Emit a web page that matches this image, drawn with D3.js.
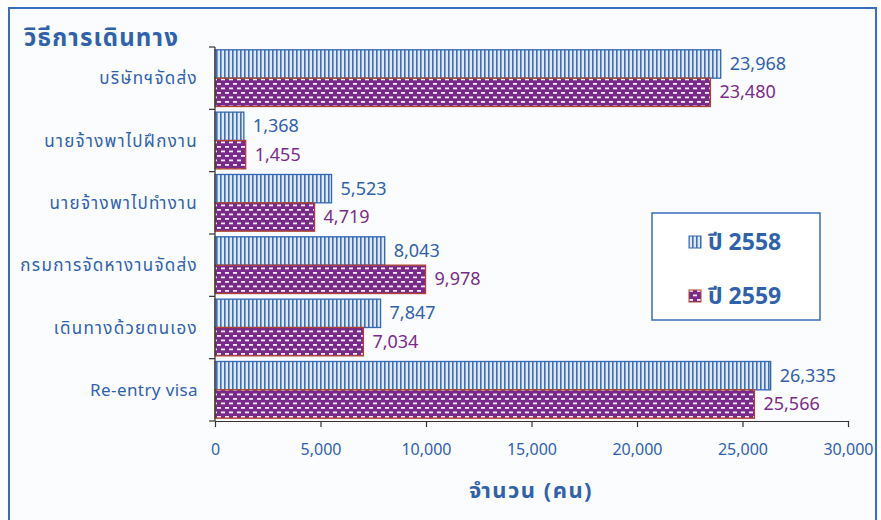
<!DOCTYPE html>
<html><head><meta charset="utf-8">
<script src="https://cdn.jsdelivr.net/npm/d3@7/dist/d3.min.js"></script>
<style>
body{margin:0;background:#fff;}
svg text{font-family:"Noto Sans","Noto Sans Thai",Lato,"Liberation Sans",sans-serif;}
</style>
</head><body>
<svg id="c" width="881" height="520"></svg>
<script>
const categories = ["บริษัทฯจัดส่ง","นายจ้างพาไปฝึกงาน","นายจ้างพาไปทำงาน","กรมการจัดหางานจัดส่ง","เดินทางด้วยตนเอง","Re-entry visa"];
const seriesNames = ["ปี 2558","ปี 2559"];
const values2558 = [23968,1368,5523,8043,7847,26335];
const values2559 = [23480,1455,4719,9978,7034,25566];
const xTicks = [0,5000,10000,15000,20000,25000,30000];

const blue = "#2f62ad", purple = "#7b2c8b";
const svg = d3.select("#c");
svg.append("rect").attr("x",0).attr("y",0).attr("width",881).attr("height",520).attr("fill","#fff");
svg.append("rect").attr("x",9).attr("y",8).attr("width",867).attr("height",530)
  .attr("fill","#fbfcfe").attr("stroke","#3a6dbd").attr("stroke-width",2);

const defs = svg.append("defs");
const p1 = defs.append("pattern").attr("id","pBlue").attr("patternUnits","userSpaceOnUse")
  .attr("width",4).attr("height",4);
p1.append("rect").attr("width",4).attr("height",4).attr("fill","#dfe8f5");
p1.append("rect").attr("x",0).attr("width",1.6).attr("height",4).attr("fill","#3e70b8");
const p2 = defs.append("pattern").attr("id","pPurple").attr("patternUnits","userSpaceOnUse")
  .attr("width",8).attr("height",9);
p2.append("rect").attr("width",8).attr("height",9).attr("fill","#7a2a8a");
p2.append("rect").attr("x",1).attr("y",2).attr("width",4).attr("height",1.8).attr("fill","#f4eef6");
p2.append("rect").attr("x",5).attr("y",6.5).attr("width",4).attr("height",1.8).attr("fill","#f4eef6");
p2.append("rect").attr("x",-3).attr("y",6.5).attr("width",4).attr("height",1.8).attr("fill","#f4eef6");

const x = d3.scaleLinear().domain([0,30000]).range([215,848]);
const y = d3.scaleBand().domain(categories).range([47,421]).paddingInner(0.09).paddingOuter(0.045);
const ySub = d3.scaleBand().domain(seriesNames).range([0,y.bandwidth()]);

// bars
const data = categories.map((c,i)=>({c, v:[values2558[i],values2559[i]]}));
const g = svg.append("g");
data.forEach(d=>{
  [0,1].forEach(k=>{
    const yy = y(d.c)+ySub(seriesNames[k]);
    g.append("rect").attr("x",x(0)).attr("y",yy).attr("width",x(d.v[k])-x(0)).attr("height",ySub.bandwidth())
      .attr("fill",k===0?"url(#pBlue)":"url(#pPurple)")
      .attr("stroke",k===0?"#3268b5":"#b0452e").attr("stroke-width",1.3);
    g.append("text").attr("x",x(d.v[k])+9).attr("y",yy+ySub.bandwidth()/2+6)
      .attr("font-size",18).attr("fill",k===0?blue:purple)
      .text(d3.format(",")(d.v[k]));
  });
});

// y axis with ticks between categories
const yAxisG = svg.append("g");
yAxisG.append("line").attr("x1",x(0)).attr("x2",x(0)).attr("y1",47).attr("y2",421).attr("stroke","#333").attr("stroke-width",1.2);
const bounds = categories.map(c=>y(c)-y.step()*y.paddingInner()/2);
bounds.push(421);
bounds[0]=47;
bounds.forEach(b=>yAxisG.append("line").attr("x1",x(0)-6).attr("x2",x(0)).attr("y1",b).attr("y2",b).attr("stroke","#333").attr("stroke-width",1.2));
categories.forEach(c=>{
  const isThai = /[\u0E00-\u0E7F]/.test(c);
  yAxisG.append("text").attr("x",198).attr("y",y(c)+y.bandwidth()/2+6).attr("text-anchor","end")
    .attr("font-size",17).attr("letter-spacing",isThai?1.3:0.4).attr("fill",blue).text(c);
});

// x axis
const xAxis = d3.axisBottom(x).tickValues(xTicks).tickFormat(d3.format(",")).tickSize(6).tickSizeOuter(0);
const xg = svg.append("g").attr("transform","translate(0,421)").call(xAxis);
xg.select(".domain").attr("stroke","#333").attr("stroke-width",1.2);
xg.selectAll(".tick line").attr("stroke","#333").attr("stroke-width",1.2);
xg.selectAll(".tick text").attr("fill",blue).attr("font-size",16).attr("dy","1.55em")
  .style("font-family","'Noto Sans',sans-serif");

// titles
svg.append("text").attr("x",24).attr("y",46).attr("font-size",24).attr("letter-spacing",1.2).attr("font-weight","bold").attr("fill",blue).text("วิธีการเดินทาง");
svg.append("text").attr("x",531).attr("y",498).attr("text-anchor","middle").attr("font-size",22).attr("letter-spacing",1.5).attr("font-weight","bold").attr("fill",blue).text("จำนวน (คน)");

// legend
const lg = svg.append("g");
lg.append("rect").attr("x",652).attr("y",213).attr("width",168).attr("height",107).attr("fill","#fff").attr("stroke","#3a6dbd").attr("stroke-width",1.5);
seriesNames.forEach((s,k)=>{
  const cy = k===0?242:296;
  lg.append("rect").attr("x",689).attr("y",cy-6).attr("width",12).attr("height",12)
    .attr("fill",k===0?"url(#pBlue)":"url(#pPurple)").attr("stroke",k===0?"#3268b5":"#b0452e");
  lg.append("text").attr("x",708).attr("y",cy+8).attr("font-size",23).attr("font-weight","bold").attr("fill",blue).text(s);
});
</script>
</body></html>
